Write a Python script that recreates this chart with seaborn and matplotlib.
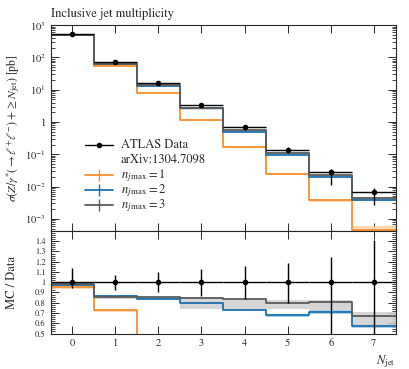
import numpy as np
import pandas as pd
import matplotlib
matplotlib.use("Agg")
import matplotlib.pyplot as plt
from matplotlib.ticker import FixedLocator, FuncFormatter, MultipleLocator, LogLocator, NullFormatter
import seaborn as sns

# ---------------- data ----------------
njet = [0, 1, 2, 3, 4, 5, 6, 7]
data_xs = [515, 73, 16, 3.27, 0.68, 0.14, 0.0275, 0.0066]
data_rel_up = [0.135, 0.07, 0.096, 0.125, 0.157, 0.19, 0.25, 0.41]
data_rel_dn = [0.06, 0.075, 0.10, 0.13, 0.16, 0.20, 0.60, 0.60]

ratio_nj1 = [0.952, 0.727, 0.48, 0.34, 0.25, 0.175, 0.138, 0.068]
ratio_nj2 = [0.974, 0.868, 0.840, 0.800, 0.727, 0.676, 0.710, 0.573]
ratio_nj3 = [0.987, 0.852, 0.856, 0.846, 0.836, 0.800, 0.810, 0.670]
band_nj3_lo = [0.975, 0.835, 0.823, 0.740, 0.730, 0.740, 0.730, 0.580]
band_nj3_hi = [0.995, 0.860, 0.860, 0.850, 0.840, 0.830, 0.830, 0.710]
band_nj2_half = [0.012, 0.012, 0.012, 0.012, 0.012, 0.012, 0.015, 0.02]
band_nj1_half = [0.015, 0.015, 0.015, 0.015, 0.015, 0.015, 0.015, 0.02]

labels = ["$n_{j\\,\\max} = 1$", "$n_{j\\,\\max} = 2$", "$n_{j\\,\\max} = 3$"]
data_label = "ATLAS Data"
ref_label = "arXiv:1304.7098"
title = "Inclusive jet multiplicity"

c_or, c_bl, c_gr = "#f7902c", "#1c71b0", "#5a5a5a"
b_or, b_bl, b_gr = "#fdd3a8", "#9cc8e6", "#cfcfcf"

# ---------------- style ----------------
sns.set_theme(style="ticks")
plt.rcParams["font.family"] = ["STIXGeneral", "DejaVu Serif"]
plt.rcParams["mathtext.fontset"] = "stix"
plt.rcParams["axes.linewidth"] = 0.8
for a in ("x", "y"):
    plt.rcParams[f"{a}tick.direction"] = "in"
    plt.rcParams[f"{a}tick.major.size"] = 6
    plt.rcParams[f"{a}tick.minor.size"] = 3
    plt.rcParams[f"{a}tick.major.width"] = 0.7
    plt.rcParams[f"{a}tick.minor.width"] = 0.6
    plt.rcParams[f"{a}tick.labelsize"] = 7.5

fig = plt.figure(figsize=(4.09, 3.69), dpi=100)
L, R = 0.1235, 0.967
ax = fig.add_axes([L, 0.374, R - L, 0.932 - 0.374])
rx = fig.add_axes([L, 0.0962, R - L, 0.374 - 0.0962], sharex=ax)

x = np.array(njet, dtype=float)
edges = np.append(x - 0.5, x[-1] + 0.5)
d = np.array(data_xs)

def ext(v):
    v = np.asarray(v, dtype=float)
    return np.append(v, v[-1])

series = [
    (np.array(ratio_nj1), np.array(ratio_nj1) - band_nj1_half, np.array(ratio_nj1) + band_nj1_half, c_or, b_or),
    (np.array(ratio_nj2), np.array(ratio_nj2) - band_nj2_half, np.array(ratio_nj2) + band_nj2_half, c_bl, b_bl),
    (np.array(ratio_nj3), np.array(band_nj3_lo), np.array(band_nj3_hi), c_gr, b_gr),
]

for axis, scale in ((ax, d), (rx, np.ones_like(d))):
    for r, lo, hi, c, bc in series:
        axis.fill_between(edges, ext(lo * scale), ext(hi * scale), step="post",
                          color=bc, alpha=0.85, lw=0, zorder=1)
    for r, lo, hi, c, bc in series:
        df = pd.DataFrame({"x": edges, "y": ext(r * scale)})
        sns.lineplot(data=df, x="x", y="y", ax=axis, color=c, lw=1.3,
                     drawstyle="steps-post", estimator=None, sort=False,
                     legend=False, zorder=2)
    yv = d if axis is ax else np.ones_like(d)
    yerr = [np.array(data_rel_dn) * yv, np.array(data_rel_up) * yv]
    axis.errorbar(x, yv, xerr=0.5, yerr=yerr, fmt="o", ms=3.0, color="black",
                  ecolor="black", elinewidth=1.0, capsize=0, zorder=4)

# main axes
ax.set_yscale("log")
ax.set_ylim(4.2e-4, 1e3)
ax.set_xlim(-0.5, 7.5)
ax.yaxis.set_major_locator(LogLocator(base=10, numticks=20))
ax.yaxis.set_minor_locator(LogLocator(base=10, subs=np.arange(2, 10), numticks=20))
ax.yaxis.set_minor_formatter(NullFormatter())
def logfmt(v, pos):
    e = int(round(np.log10(v)))
    return "1" if e == 0 else "$10^{%d}$" % e
ax.yaxis.set_major_formatter(FuncFormatter(logfmt))
ax.tick_params(which="both", top=True, right=True, labelbottom=False)
ax.xaxis.set_major_locator(FixedLocator(njet))
ax.set_xlabel("")
ax.set_ylabel(r"$\sigma(Z/\gamma^{*}(\rightarrow \ell^{+}\ell^{-}) + \geq N_{\mathrm{jet}})$ [pb]", fontsize=8.5)
ax.set_title(title, loc="left", fontsize=9, pad=6)

# legend (manual layout for even row spacing)
rows_y = [0.417, 0.345, 0.272, 0.199, 0.126]
hx0, hx1, tx = 0.100, 0.181, 0.204
entries = [(data_label, "black", "data"), (ref_label, None, None),
           (labels[0], c_or, "mc"), (labels[1], c_bl, "mc"), (labels[2], c_gr, "mc")]
for (lab, col, kind), yy in zip(entries, rows_y):
    if kind is not None:
        ax.plot([hx0, hx1], [yy, yy], color=col, lw=1.3 if kind == "mc" else 1.0,
                transform=ax.transAxes, clip_on=False, zorder=5)
        mk = "o" if kind == "data" else "|"
        ax.plot([(hx0 + hx1) / 2], [yy], marker=mk, ms=3.0 if kind == "data" else 9,
                mew=1.0, color=col, transform=ax.transAxes, clip_on=False, zorder=5)
    ax.text(tx, yy - 0.0146, lab, transform=ax.transAxes, fontsize=9,
            va="baseline", ha="left")

# ratio axes
rx.set_ylim(0.5, 1.5)
rx.yaxis.set_major_locator(FixedLocator(np.round(np.arange(0.5, 1.45, 0.1), 2)))
rx.yaxis.set_minor_locator(MultipleLocator(0.02))
rx.yaxis.set_major_formatter(FuncFormatter(lambda v, p: "%g" % round(v, 2)))
rx.tick_params(which="both", top=True, right=True)
rx.tick_params(axis="y", labelsize=6.0)
rx.set_ylabel("MC / Data", fontsize=9)
rx.set_xlabel("$N_{\\mathrm{jet}}$", loc="right", fontsize=9)
rx.xaxis.set_major_locator(FixedLocator(njet))
rx.xaxis.set_major_formatter(FuncFormatter(lambda v, p: "%d" % v))
ax.yaxis.set_label_coords(-0.083, 0.5)
rx.yaxis.set_label_coords(-0.094, 0.5)

fig.savefig("out.png", dpi=100)
